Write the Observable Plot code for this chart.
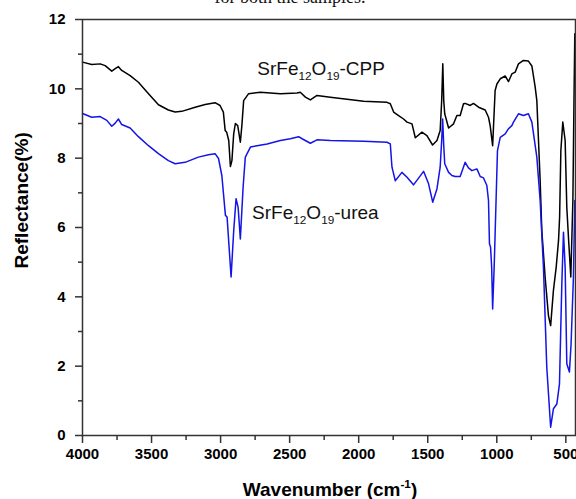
<!DOCTYPE html>
<html><head><meta charset="utf-8">
<script src="https://cdn.jsdelivr.net/npm/d3@7"></script>
<script src="https://cdn.jsdelivr.net/npm/@observablehq/plot@0.6"></script>
<style>
body{margin:0;background:#fff;}
#wrap{position:relative;width:576px;height:499px;overflow:hidden;background:#fff;}
#cap{position:absolute;left:0;width:580px;top:-14px;text-align:center;font:18px "Liberation Serif","Times New Roman",serif;line-height:22px;color:#111;z-index:2;}
</style></head><body>
<div id="wrap"><div id="chart"></div><div id="cap">for both the samples.</div></div>
<script>
// SrFe12O19-CPP (black)
const cppWn = [4000,3933,3872,3836,3788,3763,3740,3716,3655,3595,
  3522,3450,3378,3329,3281,3184,3112,3040,3004,2980,
  2967,2956,2941,2929,2918,2905,2893,2876,2857,2846,
  2833,2797,2712,2567,2446,2423,2386,2350,2302,2205,
  1964,1795,1771,1747,1711,1675,1650,1614,1590,1542,
  1506,1465,1433,1410,1399,1391,1384,1377,1349,1313,
  1289,1265,1241,1229,1192,1169,1132,1084,1060,1048,
  1030,1012,999,975,939,915,891,867,843,807,
  771,746,722,710,698,686,674,650,626,610,
  590,570,553,545,536,522,505,493,481,464,
  449,441,435];
const cppR = [10.77,10.70,10.72,10.67,10.51,10.58,10.64,10.53,10.38,10.19,
  9.86,9.54,9.39,9.33,9.35,9.47,9.55,9.60,9.52,9.33,
  8.80,8.75,8.51,7.76,7.93,8.71,9.00,8.94,8.46,8.94,
  9.66,9.86,9.90,9.86,9.88,9.90,9.76,9.68,9.81,9.76,
  9.64,9.61,9.57,9.33,9.23,9.13,9.04,8.99,8.59,8.75,
  8.65,8.38,8.51,8.80,9.66,10.72,9.66,9.28,8.87,8.99,
  9.23,9.23,9.57,9.58,9.52,9.58,9.47,9.39,9.18,8.94,
  8.36,9.95,10.14,10.29,10.37,10.21,10.43,10.48,10.72,10.82,
  10.80,10.66,10.05,9.66,8.51,7.35,5.91,4.57,3.46,3.17,
  4.18,4.85,5.62,6.30,8.22,9.04,8.51,6.58,5.72,4.57,
  6.78,9.66,11.59];
// SrFe12O19-urea (blue)
const ureaWn = [4000,3933,3872,3824,3788,3763,3740,3716,3655,3595,
  3522,3450,3378,3329,3257,3161,3088,3040,3015,2991,
  2965,2953,2924,2905,2888,2873,2857,2837,2821,2784,
  2736,2663,2567,2495,2435,2410,2350,2302,2205,1964,
  1795,1771,1759,1735,1687,1650,1603,1530,1494,1464,
  1433,1410,1399,1392,1384,1377,1349,1325,1301,1265,
  1229,1205,1180,1144,1120,1096,1072,1060,1053,1045,
  1037,1030,1019,1012,995,975,939,915,891,879,
  843,807,771,746,710,686,662,638,610,590,
  565,546,529,517,505,493,474,462,445,435];
const ureaR = [9.29,9.18,9.20,9.09,8.92,9.01,9.13,8.97,8.87,8.62,
  8.36,8.13,7.93,7.84,7.88,8.03,8.10,8.13,7.99,7.50,
  6.35,6.30,4.57,5.91,6.83,6.58,5.67,7.16,8.03,8.32,
  8.36,8.41,8.51,8.56,8.62,8.56,8.43,8.53,8.51,8.49,
  8.46,8.41,7.74,7.35,7.59,7.45,7.23,7.62,7.26,6.73,
  7.12,7.74,8.51,9.13,8.36,7.84,7.59,7.50,7.47,7.47,
  7.88,7.72,7.64,7.69,7.47,7.43,7.21,6.78,5.53,5.43,
  4.85,3.65,4.85,5.82,8.22,8.60,8.70,8.85,8.94,9.04,
  9.28,9.23,9.28,9.04,8.03,6.78,4.85,1.97,0.24,0.77,
  0.91,1.49,4.38,5.86,4.85,2.07,1.83,2.64,4.57,6.78];

const xMajor = [4000,3500,3000,2500,2000,1500,1000,500];
const xMinor = [3750,3250,2750,2250,1750,1250,750];
const yMajor = [0,2,4,6,8,10,12];
const yMinor = [1,3,5,7,9,11];

const seriesLabels = ["SrFe12O19-CPP","SrFe12O19-urea"];
const labelWn = [2734, 2772];
const labelR = [10.40, 6.25];
const labelParts = [
  [["SrFe",""],["12","sub"],["O",""],["19","sub"],["-CPP",""]],
  [["SrFe",""],["12","sub"],["O",""],["19","sub"],["-urea",""]]
];
const xTitle = "Wavenumber (cm-1)";
const xTitleParts = [["Wavenumber (cm",""],["-1","sup"],[")",""]];
const yTitle = "Reflectance(%)";

const cpp = cppWn.map((w,i)=>({w, r: cppR[i]}));
const urea = ureaWn.map((w,i)=>({w, r: ureaR[i]}));
const labels = seriesLabels.map((t,i)=>({t, w: labelWn[i], r: labelR[i]}));

const axisStroke = "#333";
const plot = Plot.plot({
  width: 576, height: 499,
  marginLeft: 82, marginRight: 1, marginTop: 19, marginBottom: 64,
  style: {fontFamily: "'Liberation Sans', Arial, sans-serif", fontSize: "15px", fontWeight: "bold", color: "#000", background: "#fff"},
  x: {domain: [4000, 430]},
  y: {domain: [0, 12]},
  marks: [
    Plot.axisX(xMajor, {tickSize: 8, tickPadding: 5, stroke: axisStroke, strokeWidth: 1.5, tickFormat: d => String(d), label: null}),
    Plot.axisX(xMinor, {tickSize: 5, stroke: axisStroke, strokeWidth: 1.5, tickFormat: () => "", label: null}),
    Plot.axisY(yMajor, {tickSize: 7, tickPadding: 10, stroke: axisStroke, strokeWidth: 1.5, tickFormat: d => String(d), label: null}),
    Plot.axisY(yMinor, {tickSize: 4, stroke: axisStroke, strokeWidth: 1.5, tickFormat: () => "", label: null}),
    Plot.line(cpp, {x: "w", y: "r", stroke: "#000", strokeWidth: 1.5}),
    Plot.line(urea, {x: "w", y: "r", stroke: "#1414e6", strokeWidth: 1.5}),
    Plot.text(labels, {x: "w", y: "r", text: "t", textAnchor: "start", lineAnchor: "bottom", fontSize: 19, fontWeight: "normal", fill: "#111"}),
    Plot.text([xTitle], {frameAnchor: "bottom", dy: 60, dx: 1, fontSize: 19, lineAnchor: "bottom"}),
    Plot.text([yTitle], {frameAnchor: "left", dx: -61, dy: 41, rotate: -90, fontSize: 19}),
    Plot.frame({stroke: axisStroke, strokeWidth: 1.5})
  ]
});
document.getElementById("chart").appendChild(plot);

function richify(el, parts){
  el.textContent = "";
  let shift = 0;
  for (const [s, kind] of parts){
    const t = document.createElementNS("http://www.w3.org/2000/svg","tspan");
    const target = kind === "sub" ? 5 : kind === "sup" ? -8 : 0;
    t.setAttribute("dy", target - shift);
    shift = target;
    if (kind) t.setAttribute("font-size", "0.62em");
    t.textContent = s;
    el.appendChild(t);
  }
}
plot.querySelectorAll("text").forEach(el => {
  const s = el.textContent;
  const i = seriesLabels.indexOf(s);
  if (i >= 0) richify(el, labelParts[i]);
  else if (s === xTitle) richify(el, xTitleParts);
});
</script>
</body></html>
